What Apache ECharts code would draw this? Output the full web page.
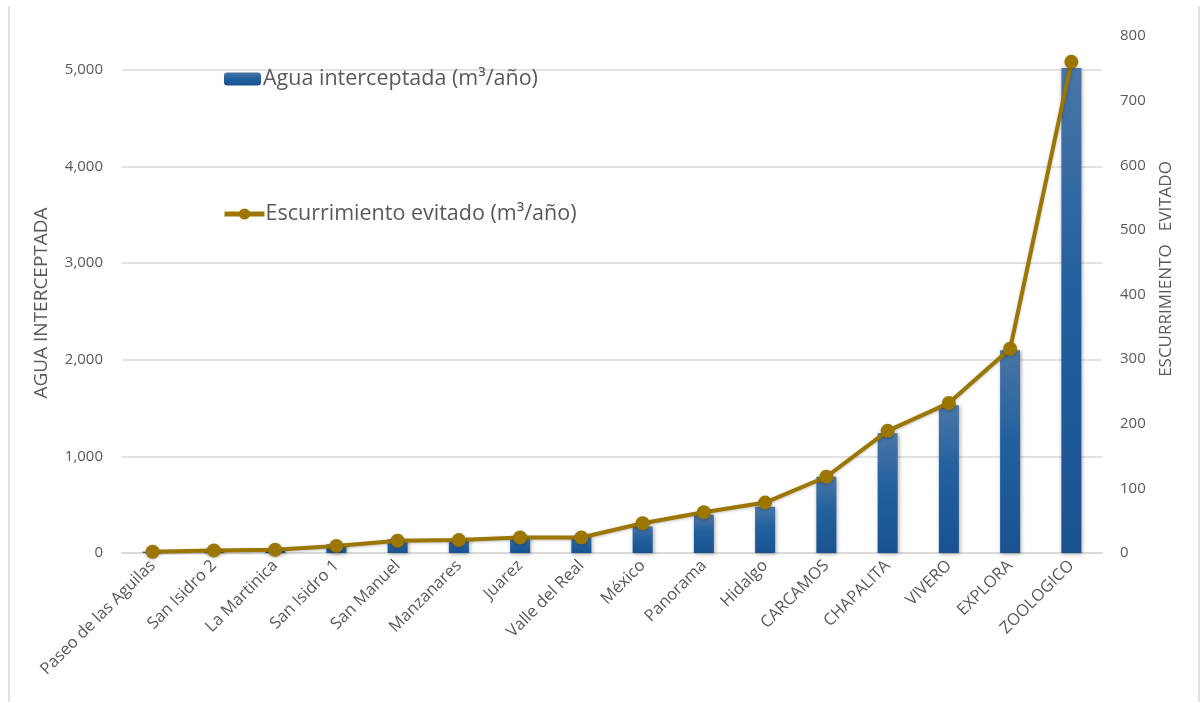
<!DOCTYPE html>
<html>
<head>
<meta charset="utf-8">
<script src="https://cdn.jsdelivr.net/npm/echarts@6/dist/echarts.min.js"></script>
<style>
  html, body { margin: 0; padding: 0; background: #ffffff; }
  #chart { width: 1201px; height: 702px; }
</style>
</head>
<body>
<div id="chart"></div>
<script>
const categories = ['Paseo de las Aguilas', 'San Isidro 2', 'La Martinica', 'San Isidro 1', 'San Manuel', 'Manzanares', 'Juarez', 'Valle del Real', 'México', 'Panorama', 'Hidalgo', 'CARCAMOS', 'CHAPALITA', 'VIVERO', 'EXPLORA', 'ZOOLOGICO'];
const aguaInterceptada = [15, 30, 40, 90, 140, 140, 165, 165, 275, 395, 480, 790, 1240, 1530, 2100, 5020];
const escurrimientoEvitado = [2, 4, 5, 11, 19, 20, 24, 24, 46, 63, 78, 118, 189, 232, 316, 760];
const leftTicks = { min: 0, max: 5352, interval: 1000 };
const rightTicks = { min: 0, max: 800, interval: 100 };
const barName = 'Agua interceptada (m³/año)';
const lineName = 'Escurrimiento evitado (m³/año)';
const leftAxisName = 'AGUA INTERCEPTADA';
const rightAxisName = 'ESCURRIMIENTO   EVITADO';

const FONT = '"Open Sans", Lato, sans-serif';
const TXT = '#595959';
const GOLD = '#9b7600';
const chart = echarts.init(document.getElementById('chart'), null, { renderer: 'canvas' });

chart.setOption({
  backgroundColor: '#ffffff',
  animation: false,
  textStyle: { fontFamily: FONT },
  grid: { left: 122, right: 99, top: 36, bottom: 149, containLabel: false },
  legend: [
    {
      data: [barName], left: 224, top: 68, orient: 'vertical', padding: 0,
      itemWidth: 37, itemHeight: 13, itemGap: 0,
      textStyle: { fontSize: 21.5, color: TXT, fontFamily: FONT, padding: [0, 0, 0, -3] }
    },
    {
      data: [lineName], left: 222, top: 203, orient: 'vertical', padding: 0,
      itemWidth: 40, itemHeight: 14, itemGap: 0,
      lineStyle: { width: 5, color: GOLD },
      textStyle: { fontSize: 21.5, color: TXT, fontFamily: FONT, padding: [0, 0, 0, -4] }
    }
  ],
  xAxis: {
    type: 'category',
    data: categories,
    axisLine: { show: true, lineStyle: { color: '#d9d9d9', width: 2 } },
    axisTick: { show: false },
    axisLabel: { rotate: 45, fontSize: 16.5, color: TXT, margin: 10, interval: 0, fontFamily: FONT }
  },
  yAxis: [
    {
      type: 'value', min: leftTicks.min, max: leftTicks.max, interval: leftTicks.interval,
      axisLine: { show: false }, axisTick: { show: false },
      axisLabel: {
        fontSize: 15, color: TXT, margin: 19, fontFamily: FONT, showMaxLabel: false,
        formatter: v => (v % 1000 === 0 ? v.toLocaleString('en-US') : '')
      },
      splitLine: { show: true, showMaxLine: false, lineStyle: { color: '#d9d9d9', width: 1.5 } }
    },
    {
      type: 'value', min: rightTicks.min, max: rightTicks.max, interval: rightTicks.interval,
      position: 'right',
      axisLine: { show: false }, axisTick: { show: false },
      axisLabel: { fontSize: 15, color: TXT, margin: 18, fontFamily: FONT },
      splitLine: { show: false }
    }
  ],
  graphic: [
    { type: 'text', x: 42, y: 303, rotation: Math.PI / 2,
      style: { text: leftAxisName, fontSize: 19, fill: TXT, fontFamily: FONT, align: 'center', verticalAlign: 'middle' } },
    { type: 'text', x: 1166, y: 269, rotation: Math.PI / 2,
      style: { text: rightAxisName, fontSize: 17, fill: TXT, fontFamily: FONT, align: 'center', verticalAlign: 'middle' } },
    { type: 'line', shape: { x1: 9, y1: 6, x2: 9, y2: 702 }, style: { stroke: '#d9d9d9', lineWidth: 1.5 } },
    { type: 'line', shape: { x1: 1199, y1: 6, x2: 1199, y2: 702 }, style: { stroke: '#d9d9d9', lineWidth: 1.5 } }
  ],
  series: [
    {
      name: barName, type: 'bar', yAxisIndex: 0, data: aguaInterceptada, barWidth: 20,
      itemStyle: {
        color: new echarts.graphic.LinearGradient(0, 0, 0, 1, [
          { offset: 0, color: '#4a75a6' },
          { offset: 0.45, color: '#22609e' },
          { offset: 1, color: '#1a5290' }
        ]),
        shadowBlur: 4, shadowColor: 'rgba(0,0,0,0.35)', shadowOffsetX: 1, shadowOffsetY: 1
      }
    },
    {
      name: lineName, type: 'line', yAxisIndex: 1, data: escurrimientoEvitado,
      symbol: 'circle', symbolSize: 14,
      lineStyle: { color: GOLD, width: 4, shadowBlur: 3, shadowColor: 'rgba(0,0,0,0.25)', shadowOffsetY: 1 },
      itemStyle: { color: GOLD, shadowBlur: 3, shadowColor: 'rgba(0,0,0,0.25)', shadowOffsetY: 1 }
    }
  ]
});
</script>
</body>
</html>
